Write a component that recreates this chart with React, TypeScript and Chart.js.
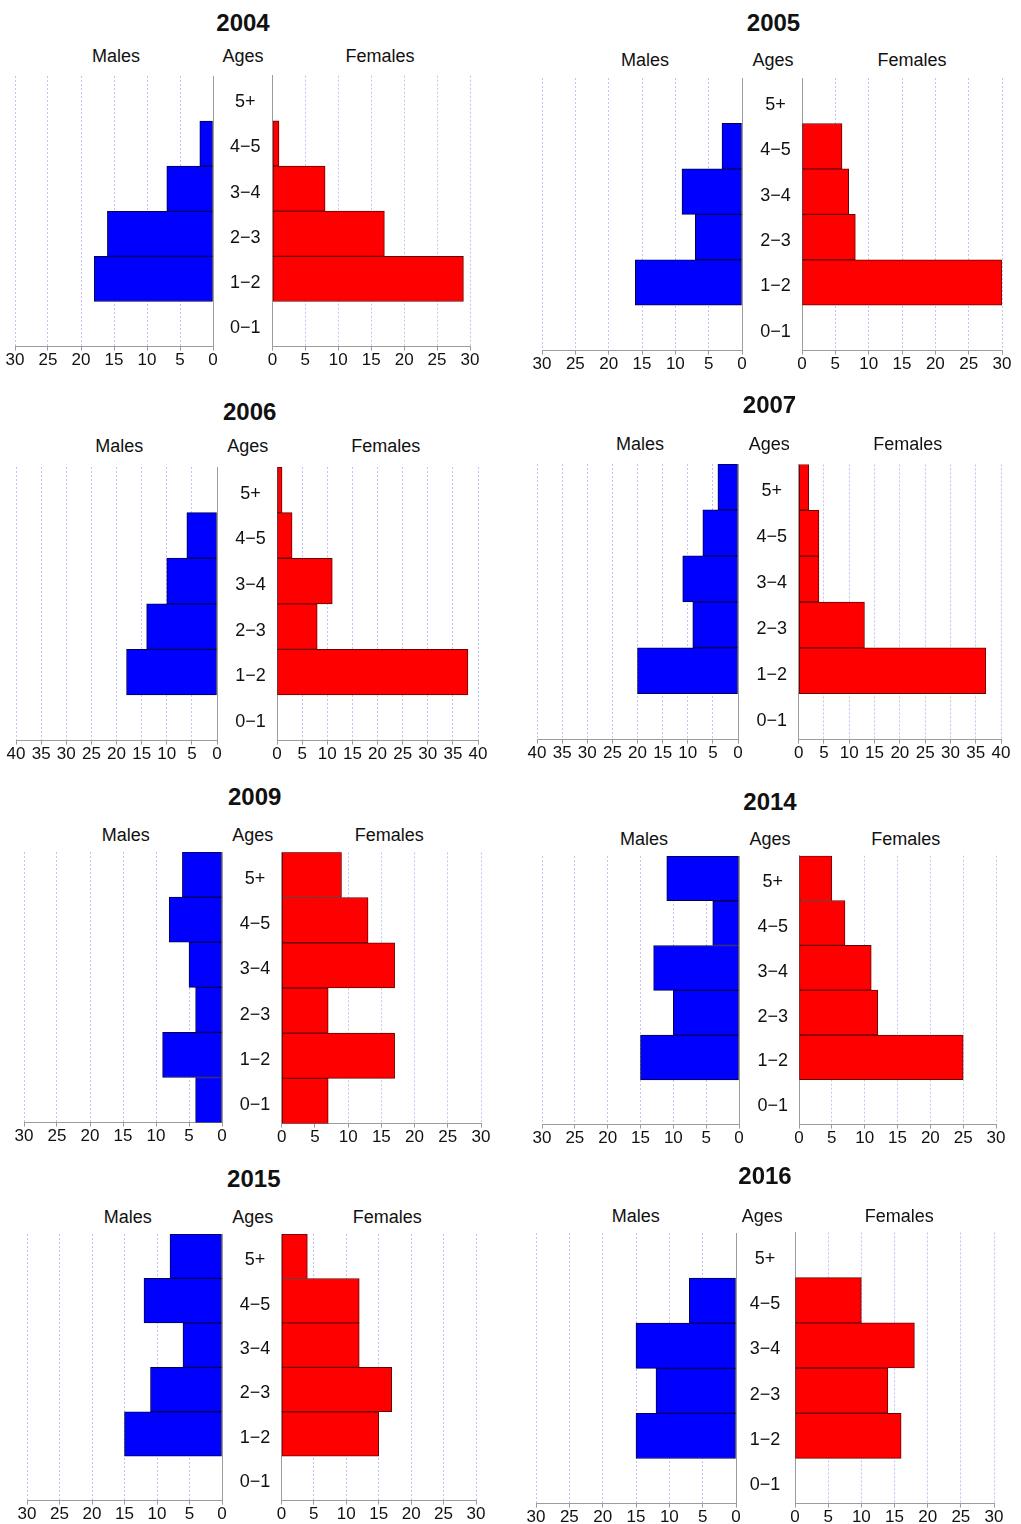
import React, { useEffect, useRef } from 'react';
import { Chart, registerables } from 'chart.js';

Chart.register(...registerables);

// ---- data -------------------------------------------------------------
const years = ['2004', '2005', '2006', '2007', '2009', '2014', '2015', '2016'];
const ageGroups = ['0\u22121', '1\u22122', '2\u22123', '3\u22124', '4\u22125', '5+'];

const males2004 = [0, 18, 16, 7, 2, 0];
const females2004 = [0, 29, 17, 8, 1, 0];
const males2005 = [0, 16, 7, 9, 3, 0];
const females2005 = [0, 30, 8, 7, 6, 0];
const males2006 = [0, 18, 14, 10, 6, 0];
const females2006 = [0, 38, 8, 11, 3, 1];
const males2007 = [0, 20, 9, 11, 7, 4];
const females2007 = [0, 37, 13, 4, 4, 2];
const males2009 = [4, 9, 4, 5, 8, 6];
const females2009 = [7, 17, 7, 17, 13, 9];
const males2014 = [0, 15, 10, 13, 4, 11];
const females2014 = [0, 25, 12, 11, 7, 5];
const males2015 = [0, 15, 11, 6, 12, 8];
const females2015 = [0, 15, 17, 12, 12, 4];
const males2016 = [0, 15, 12, 15, 7, 0];
const females2016 = [0, 16, 14, 18, 10, 0];

const malesByYear = [males2004, males2005, males2006, males2007, males2009, males2014, males2015, males2016];
const femalesByYear = [females2004, females2005, females2006, females2007, females2009, females2014, females2015, females2016];
const axisMax = [30, 30, 40, 40, 30, 30, 30, 30];
const tickStep = 5;

// ---- layout of each pyramid on the page (px) --------------------------
type Frame = {
  tx: number; ty: number; hy: number; mx: number; ax: number; fx: number;
  mL: number; mR: number; fL: number; fR: number; top: number; bottom: number;
};

const frames: Frame[] = [
  { tx: 243, ty: 23, hy: 55.5, mx: 116, ax: 243, fx: 380, mL: 15, mR: 213.3, fL: 272.7, fR: 470.3, top: 75.6, bottom: 346 },
  { tx: 773.5, ty: 22.7, hy: 60, mx: 645, ax: 773, fx: 912, mL: 542, mR: 742, fL: 802, fR: 1002, top: 77.8, bottom: 350.8 },
  { tx: 249.7, ty: 411.7, hy: 446, mx: 119.3, ax: 247.7, fx: 385.7, mL: 15.7, mR: 216.7, fL: 276.7, fR: 477.3, top: 467, bottom: 740.3 },
  { tx: 769.5, ty: 405, hy: 444.3, mx: 640, ax: 769.3, fx: 907.7, mL: 536.7, mR: 738, fL: 798.7, fR: 1000.7, top: 464, bottom: 739.3 },
  { tx: 254.7, ty: 797.3, hy: 835, mx: 125.7, ax: 252.7, fx: 389.3, mL: 24, mR: 222.3, fL: 282, fR: 481, top: 852.3, bottom: 1123.3 },
  { tx: 770, ty: 801.7, hy: 838.7, mx: 644, ax: 770, fx: 905.7, mL: 542.3, mR: 739.7, fL: 798.7, fR: 996, top: 856, bottom: 1124.7 },
  { tx: 253.8, ty: 1179, hy: 1217.3, mx: 127.7, ax: 252.7, fx: 387.3, mL: 27.3, mR: 222.3, fL: 281.7, fR: 476.7, top: 1233.7, bottom: 1500 },
  { tx: 765, ty: 1176, hy: 1215.7, mx: 635.7, ax: 762.3, fx: 899.3, mL: 536, mR: 735.7, fL: 794.7, fR: 993.3, top: 1232.5, bottom: 1503.3 },
];

const FAMILY = '"Liberation Sans", Arial, Helvetica, sans-serif';
const TEXT = '#111111';
const AXIS = '#9c9c9c';
const GRID = '#c2c2f2';
const TICK_SIZE = 17;
const AGE_SIZE = 18;

function widestAgeLabel(): number {
  const ctx = document.createElement('canvas').getContext('2d');
  if (!ctx) return 29;
  ctx.font = `normal ${AGE_SIZE}px ${FAMILY}`;
  return Math.max(...ageGroups.map((a) => ctx.measureText(a).width));
}

// Move/resize the canvas so that its plot area lands on the requested box.
function placeChart(chart: Chart, canvas: HTMLCanvasElement, left: number, top: number, w: number, h: number) {
  let ca = chart.chartArea;
  const dw = w - (ca.right - ca.left);
  const dh = h - (ca.bottom - ca.top);
  if (Math.abs(dw) > 0.3 || Math.abs(dh) > 0.3) {
    chart.resize(Math.round(chart.width + dw), Math.round(chart.height + dh));
    ca = chart.chartArea;
  }
  canvas.style.left = `${Math.round(left - ca.left)}px`;
  canvas.style.top = `${Math.round(top - ca.top)}px`;
}

function buildHalf(canvas: HTMLCanvasElement, isMale: boolean, values: number[], max: number, f: Frame): Chart {
  const left = isMale ? f.mL : f.fL;
  const right = isMale ? f.mR : f.fR;
  const gap = f.fL - f.mR;
  const plotW = right - left;
  const plotH = f.bottom - f.top;
  const padL = isMale ? 20 : 0;
  const padR = isMale ? 12 : 20;
  canvas.width = Math.round(plotW + padL + padR + (isMale ? 0 : gap));
  canvas.height = Math.round(plotH + 70);
  const labelPad = Math.max(0, f.fL - (f.ax + 2.5) - widestAgeLabel() / 2);

  const chart = new Chart(canvas, {
    type: 'bar',
    data: {
      labels: ageGroups,
      datasets: [
        {
          label: isMale ? 'Males' : 'Females',
          data: values,
          backgroundColor: isMale ? '#0000ff' : '#ff0000',
          borderColor: isMale ? '#00004e' : '#6a0000',
          borderWidth: 1,
          borderSkipped: false,
          barPercentage: 1,
          categoryPercentage: 1,
        },
      ],
    },
    options: {
      indexAxis: 'y',
      responsive: false,
      maintainAspectRatio: false,
      animation: false,
      devicePixelRatio: 1,
      layout: { padding: { left: padL, right: padR, top: 4, bottom: 2 } },
      plugins: { legend: { display: false }, tooltip: { enabled: false }, title: { display: false } },
      scales: {
        x: {
          type: 'linear',
          reverse: isMale,
          min: 0,
          max,
          ticks: {
            stepSize: tickStep,
            autoSkip: false,
            maxRotation: 0,
            padding: 0,
            color: TEXT,
            font: { family: FAMILY, size: TICK_SIZE },
          },
          grid: {
            color: GRID,
            lineWidth: 1,
            drawTicks: true,
            tickLength: 4,
            tickColor: AXIS,
            tickWidth: 1,
          },
          border: { display: true, color: AXIS, width: 1, dash: [2, 2] },
        },
        y: {
          type: 'category',
          reverse: true,
          offset: true,
          position: isMale ? 'right' : 'left',
          grid: { display: false, drawTicks: false, tickLength: 0 },
          border: { display: true, color: AXIS, width: 1 },
          ticks: {
            display: !isMale,
            color: TEXT,
            crossAlign: 'center',
            padding: labelPad,
            labelOffset: 4,
            font: { family: FAMILY, size: AGE_SIZE },
          },
          afterFit: isMale
            ? undefined
            : (scale: any) => {
                scale.width = gap;
              },
        },
      },
    },
  } as any);

  placeChart(chart, canvas, left, f.top, plotW, plotH);
  return chart;
}

const textStyle = (x: number, y: number, size: number, bold = false): React.CSSProperties => ({
  position: 'absolute',
  left: x,
  top: y,
  transform: 'translate(-50%, -50%)',
  fontFamily: FAMILY,
  fontSize: size,
  fontWeight: bold ? 700 : 400,
  lineHeight: 1,
  color: TEXT,
  whiteSpace: 'nowrap',
});

function Pyramid({ index }: { index: number }) {
  const maleRef = useRef<HTMLCanvasElement>(null);
  const femaleRef = useRef<HTMLCanvasElement>(null);
  const f = frames[index];

  useEffect(() => {
    if (!maleRef.current || !femaleRef.current) return;
    const charts = [
      buildHalf(maleRef.current, true, malesByYear[index], axisMax[index], f),
      buildHalf(femaleRef.current, false, femalesByYear[index], axisMax[index], f),
    ];
    return () => charts.forEach((c) => c.destroy());
  }, [index]);

  return (
    <>
      <div style={textStyle(f.tx, f.ty, 24, true)}>{years[index]}</div>
      <div style={textStyle(f.mx, f.hy, 18)}>Males</div>
      <div style={textStyle(f.ax, f.hy, 18)}>Ages</div>
      <div style={textStyle(f.fx, f.hy, 18)}>Females</div>
      <canvas ref={maleRef} style={{ position: 'absolute' }} />
      <canvas ref={femaleRef} style={{ position: 'absolute' }} />
    </>
  );
}

export default function App() {
  return (
    <div
      style={{
        position: 'absolute',
        left: 0,
        top: 0,
        width: 1021,
        height: 1524,
        background: '#ffffff',
        overflow: 'hidden',
      }}
    >
      {years.map((y, i) => (
        <Pyramid key={y} index={i} />
      ))}
    </div>
  );
}
